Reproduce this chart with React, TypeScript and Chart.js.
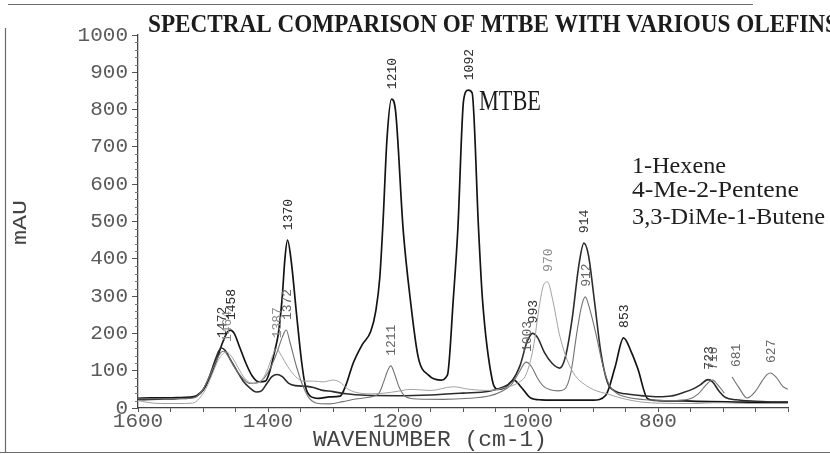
import React, { useEffect, useRef } from 'react';
import { Chart, registerables } from 'chart.js';

Chart.register(...registerables);

// Absorbance traces: [wavenumber (cm-1), absorbance (mAU)]
type Pt = [number, number | null];

const MTBE: Pt[] = [
  [1600, 26], [1580, 27], [1560, 27], [1540, 28], [1520, 29], [1510, 33], [1500, 48], [1490, 80],
  [1480, 125], [1470, 175], [1463, 202], [1458, 209], [1452, 200], [1444, 165], [1434, 120], [1424, 85],
  [1414, 70], [1404, 72], [1397, 100], [1390, 150], [1384, 200], [1378, 300], [1374, 400], [1370, 450],
  [1364, 390], [1356, 250], [1348, 120], [1342, 55], [1335, 32], [1322, 26], [1305, 30], [1289, 32],
  [1280, 62], [1269, 120], [1255, 170], [1242, 205], [1234, 262], [1228, 350], [1223, 500], [1217, 720],
  [1210, 828], [1204, 800], [1192, 477], [1181, 290], [1169, 137], [1153, 88], [1135, 75], [1124, 88],
  [1115, 290], [1108, 477], [1099, 826], [1092, 852], [1086, 845], [1076, 477], [1070, 290], [1055, 75],
  [1047, 50], [1035, 55], [1022, 75], [1010, 55], [996, 27], [980, 22], [940, 21], [900, 21],
  [880, 35], [866, 110], [853, 188], [841, 150], [831, 105], [816, 25], [800, 20], [760, 19],
  [720, 17], [680, 16], [640, 15], [600, 15],
];

const HEXENE: Pt[] = [
  [1600, 22], [1580, 23], [1560, 24], [1540, 25], [1520, 27], [1510, 31], [1500, 48], [1490, 85],
  [1482, 125], [1476, 152], [1472, 161], [1466, 155], [1458, 130], [1448, 100], [1438, 72], [1428, 54],
  [1418, 43], [1410, 46], [1402, 65], [1394, 84], [1386, 90], [1378, 84], [1368, 66], [1358, 60],
  [1340, 58], [1330, 55], [1318, 48], [1300, 44], [1280, 38], [1250, 34], [1200, 33], [1150, 35],
  [1100, 40], [1060, 45], [1040, 55], [1025, 72], [1012, 115], [1002, 175], [993, 200], [985, 188],
  [975, 150], [963, 120], [951, 107], [942, 140], [932, 240], [922, 380], [914, 442], [907, 410],
  [898, 290], [888, 150], [878, 70], [866, 45], [850, 38], [820, 32], [800, 30], [780, 32],
  [760, 42], [745, 52], [735, 62], [723, 76], [716, 70], [706, 45], [696, 28], [680, 22],
  [650, 18], [620, 16], [600, 16],
];

const METHYL_PENTENE: Pt[] = [
  [1600, 20], [1585, 15], [1565, 12], [1540, 12], [1516, 13], [1506, 25], [1496, 50], [1486, 90],
  [1476, 130], [1464, 150], [1456, 138], [1446, 108], [1436, 80], [1424, 66], [1412, 70], [1402, 98],
  [1394, 135], [1387, 160], [1380, 142], [1370, 112], [1358, 85], [1346, 72], [1330, 72], [1315, 70],
  [1300, 75], [1290, 70], [1278, 52], [1265, 42], [1240, 38], [1220, 40], [1200, 45], [1180, 50],
  [1150, 47], [1115, 57], [1090, 50], [1060, 47], [1035, 55], [1015, 68], [1003, 90], [992, 160],
  [982, 280], [976, 330], [970, 338], [962, 290], [952, 200], [940, 130], [928, 88], [912, 62],
  [895, 46], [878, 38], [860, 28], [840, 20], [820, 15], [800, 13], [770, 12], [740, 12],
  [716, 14], [700, 14], [660, 12], [600, 12],
];

const DIMETHYL_BUTENE: Pt[] = [
  [1600, 25], [1560, 25], [1520, 26], [1510, 30], [1500, 50], [1490, 85], [1480, 125], [1473, 148],
  [1468, 152], [1460, 135], [1450, 105], [1440, 82], [1428, 66], [1416, 68], [1406, 80], [1396, 108],
  [1386, 150], [1378, 190], [1372, 209], [1366, 175], [1356, 110], [1346, 58], [1336, 25], [1322, 12],
  [1305, 11], [1285, 17], [1265, 24], [1245, 29], [1230, 38], [1222, 70], [1216, 100], [1211, 113],
  [1205, 90], [1198, 55], [1188, 30], [1170, 24], [1130, 23], [1090, 26], [1060, 32], [1040, 45],
  [1026, 62], [1014, 95], [1003, 123], [995, 112], [986, 82], [976, 58], [966, 49], [954, 46],
  [944, 50], [934, 95], [925, 200], [918, 270], [912, 298], [905, 265], [895, 195], [885, 115],
  [875, 62], [864, 40], [850, 30], [820, 22], [780, 20], [752, 24], [738, 38], [727, 60],
  [716, 75], [708, 62], [698, 40], [690, null], [686, 83], [676, 56], [663, 27], [650, 45],
  [640, 72], [632, 90], [627, 94], [618, 82], [608, 58], [600, 50],
];

const TITLE = 'SPECTRAL COMPARISON OF MTBE WITH VARIOUS OLEFINS';
const MAIN_NAME = 'MTBE';
const OLEFIN_NAMES = ['1-Hexene', '4-Me-2-Pentene', '3,3-DiMe-1-Butene'];
const X_TITLE = 'WAVENUMBER (cm-1)';
const Y_TITLE = 'mAU';
const X_LABELED = [1600, 1400, 1200, 1000, 800];

// Peak annotations: the printed wavenumber and the trace it marks
const PEAK_TEXT = ['1472', '1464', '1458', '1387', '1372', '1370', '1211', '1210', '1092', '1003', '993', '970', '914', '912', '853', '723', '716', '681', '627'];
const PEAK_TRACE = ['hexene', 'pentene', 'mtbe', 'pentene', 'butene', 'mtbe', 'butene', 'mtbe', 'mtbe', 'butene', 'hexene', 'pentene', 'hexene', 'butene', 'mtbe', 'hexene', 'butene', 'butene', 'butene'];

const TRACES: Record<string, Pt[]> = {
  mtbe: MTBE,
  hexene: HEXENE,
  pentene: METHYL_PENTENE,
  butene: DIMETHYL_BUTENE,
};

const STYLE: Record<string, { color: string; width: number; label: string }> = {
  mtbe: { color: '#141414', width: 1.7, label: '#2a2a2a' },
  hexene: { color: '#2c2c2c', width: 1.6, label: '#333333' },
  pentene: { color: '#a2a2a2', width: 1.0, label: '#8c8c8c' },
  butene: { color: '#727272', width: 1.1, label: '#666666' },
};

const PLOTTER_FONT = "'Liberation Mono', 'DejaVu Sans Mono', monospace";
const SERIF_FONT = "'Liberation Serif', 'DejaVu Serif', serif";

function fitText(
  ctx: CanvasRenderingContext2D,
  text: string,
  x: number,
  y: number,
  width: number,
  font: string,
  color: string,
  angle = 0,
) {
  ctx.save();
  ctx.font = font;
  ctx.fillStyle = color;
  ctx.textAlign = 'left';
  ctx.textBaseline = 'alphabetic';
  const w = ctx.measureText(text).width;
  ctx.translate(x, y);
  ctx.rotate(angle);
  ctx.scale(width / w, 1);
  ctx.fillText(text, 0, 0);
  ctx.restore();
}

const decorations = {
  id: 'decorations',
  beforeDraw(chart: Chart) {
    const ctx = chart.ctx;
    ctx.save();
    ctx.strokeStyle = '#6a6a6a';
    ctx.lineWidth = 1.2;
    ctx.beginPath();
    ctx.moveTo(8, 4.5);
    ctx.lineTo(753, 4.5);
    ctx.moveTo(5.5, 28);
    ctx.lineTo(5.5, 452);
    ctx.moveTo(0, 452.5);
    ctx.lineTo(830, 452.5);
    ctx.stroke();
    ctx.restore();
  },
  afterDraw(chart: Chart) {
    const ctx = chart.ctx;
    const xs = chart.scales.x;
    const ys = chart.scales.y;
    const area = chart.chartArea;

    // minor ticks on the absorbance axis
    ctx.save();
    ctx.strokeStyle = '#777';
    ctx.lineWidth = 1;
    ctx.beginPath();
    for (let v = 20; v < 1000; v += 20) {
      if (v % 100 === 0) continue;
      const py = Math.round(ys.getPixelForValue(v)) + 0.5;
      ctx.moveTo(area.left - 3, py);
      ctx.lineTo(area.left, py);
    }
    ctx.stroke();
    ctx.restore();

    // headings
    fitText(ctx, TITLE, 148, 32, 690, `bold 26px ${SERIF_FONT}`, '#1c1c1c');
    fitText(ctx, MAIN_NAME, 479, 110, 62, `30px ${SERIF_FONT}`, '#1c1c1c');
    const widths = [94, 167, 193];
    const baselines = [173, 197, 224];
    OLEFIN_NAMES.forEach((name, i) => {
      fitText(ctx, name, 632, baselines[i], widths[i], `24px ${SERIF_FONT}`, '#1e1e1e');
    });

    // axis titles
    fitText(ctx, Y_TITLE, 26, 245, 45, `20px ${PLOTTER_FONT}`, '#444', -Math.PI / 2);
    fitText(ctx, X_TITLE, 313, 446, 234, `22px ${PLOTTER_FONT}`, '#444');

    // peak wavenumber labels, placed just above each peak
    ctx.save();
    ctx.font = `13px ${PLOTTER_FONT}`;
    ctx.textAlign = 'left';
    ctx.textBaseline = 'alphabetic';
    PEAK_TEXT.forEach((text, i) => {
      const key = PEAK_TRACE[i];
      const wave = Number(text);
      let peak = 0;
      for (const [w, v] of TRACES[key]) {
        if (v !== null && Math.abs(w - wave) <= 6 && v > peak) peak = v;
      }
      const px = xs.getPixelForValue(wave);
      const py = ys.getPixelForValue(peak) - 10;
      ctx.save();
      ctx.fillStyle = STYLE[key].label;
      ctx.translate(px + 4.5, py);
      ctx.rotate(-Math.PI / 2);
      ctx.fillText(text, 0, 0);
      ctx.restore();
    });
    ctx.restore();
  },
};

export default function App() {
  const canvasRef = useRef<HTMLCanvasElement | null>(null);

  useEffect(() => {
    const canvas = canvasRef.current;
    if (!canvas) return;
    const order = ['pentene', 'butene', 'hexene', 'mtbe'];
    const chart = new Chart(canvas, {
      type: 'line',
      data: {
        datasets: order.map((key) => ({
          label: key,
          data: TRACES[key].map(([x, y]) => ({ x, y })),
          borderColor: STYLE[key].color,
          borderWidth: STYLE[key].width,
          pointRadius: 0,
          fill: false,
          spanGaps: false,
          cubicInterpolationMode: 'monotone' as const,
        })),
      },
      options: {
        animation: false,
        responsive: false,
        devicePixelRatio: 1,
        layout: { padding: { left: 0, top: 35, right: 42, bottom: 0 } },
        plugins: {
          legend: { display: false },
          title: { display: false },
          tooltip: { enabled: false },
        },
        scales: {
          x: {
            type: 'linear',
            reverse: true,
            min: 600,
            max: 1600,
            afterFit: (scale: any) => {
              scale.height = 46;
            },
            border: { display: true, color: '#444', width: 1.3 },
            grid: {
              drawOnChartArea: false,
              drawTicks: true,
              tickLength: 4,
              tickColor: '#555',
              tickWidth: 1,
            },
            ticks: {
              stepSize: 50,
              autoSkip: false,
              maxRotation: 0,
              padding: -3,
              color: '#5a5a5a',
              font: { family: PLOTTER_FONT, size: 21 },
              callback: (value: any) => (X_LABELED.includes(Number(value)) ? String(value) : ''),
            },
          },
          y: {
            type: 'linear',
            min: 0,
            max: 1000,
            afterFit: (scale: any) => {
              scale.width = 138;
            },
            border: { display: true, color: '#444', width: 1.3 },
            grid: {
              drawOnChartArea: false,
              drawTicks: true,
              tickLength: 6,
              tickWidth: 1,
              tickColor: (c: any) => (c.tick && c.tick.value % 100 === 0 ? '#555' : 'rgba(0,0,0,0)'),
            },
            ticks: {
              stepSize: 20,
              autoSkip: false,
              padding: 4,
              color: '#5a5a5a',
              font: { family: PLOTTER_FONT, size: 21 },
              callback: (value: any) => (Number(value) % 100 === 0 ? String(value) : ''),
            },
          },
        },
      },
      plugins: [decorations],
    });
    return () => chart.destroy();
  }, []);

  return (
    <div style={{ position: 'absolute', left: 0, top: 0, width: 830, height: 454, background: '#fff' }}>
      <canvas ref={canvasRef} width={830} height={454} />
    </div>
  );
}
